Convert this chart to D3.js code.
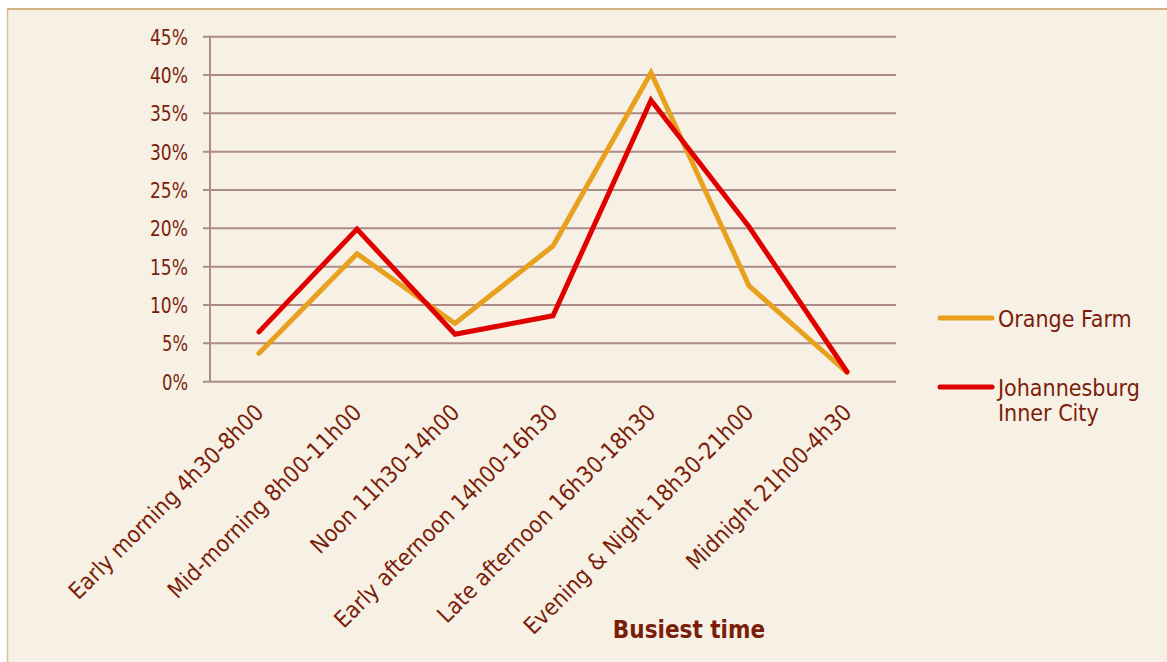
<!DOCTYPE html>
<html>
	<head>
		<meta charset="utf-8">
		<script src="https://cdn.jsdelivr.net/npm/d3@7"></script>
		<style>
			body { margin: 0; background: #ffffff; }
			svg { display: block; }
		</style>
	</head>
	<body>
<script>
// chart values
var categories = ["Early morning 4h30-8h00", "Mid-morning 8h00-11h00", "Noon 11h30-14h00",
	"Early afternoon 14h00-16h30", "Late afternoon 16h30-18h30", "Evening & Night 18h30-21h00",
	"Midnight 21h00-4h30"]
var orangeFarm = [3.7, 16.7, 7.6, 17.7, 40.3, 12.5, 1.2]
var joburgInner = [6.5, 19.9, 6.2, 8.6, 36.7, 20.2, 1.3]
var yTicks = [0, 5, 10, 15, 20, 25, 30, 35, 40, 45]
var seriesNames = ["Orange Farm", "Johannesburg|Inner City"]
var seriesColors = ["#e8a11e", "#e00000"]

var W = 1167, H = 662
var textCol = "#7a1e0a", gridCol = "#ad8b88"
var font = "'DejaVu Sans Condensed', 'DejaVu Sans', sans-serif"

var svg = d3.select('body').append('svg')
	.attr('width', W)
	.attr('height', H)

// panel
svg.append('rect')
	.attr('x', 8).attr('y', 9)
	.attr('width', W).attr('height', H)
	.attr('fill', '#f7f0e4')
svg.append('line').attr('x1', 7.5).attr('x2', 7.5).attr('y1', 9).attr('y2', H)
	.attr('stroke', '#dcc394').attr('stroke-width', 1.5)
svg.append('line').attr('x1', 7).attr('x2', W).attr('y1', 9).attr('y2', 9)
	.attr('stroke', '#c39a5c').attr('stroke-width', 1.5)

var pLeft = 210, pRight = 896, pTop = 36.7, pBottom = 381.7

var x = d3.scaleBand().domain(categories).range([pLeft, pRight])
var y = d3.scaleLinear().domain([0, 45]).range([pBottom, pTop])

// grid
svg.append('g').selectAll('line').data(yTicks).enter().append('line')
	.attr('x1', pLeft - 7).attr('x2', pRight)
	.attr('y1', d => y(d)).attr('y2', d => y(d))
	.attr('stroke', gridCol).attr('stroke-width', 2)

svg.append('line')
	.attr('x1', pLeft).attr('x2', pLeft).attr('y1', pTop).attr('y2', pBottom)
	.attr('stroke', gridCol).attr('stroke-width', 2)

// y labels
svg.append('g').selectAll('text').data(yTicks).enter().append('text')
	.attr('x', 188).attr('y', d => y(d) + 8)
	.attr('text-anchor', 'end')
	.attr('font-family', font).attr('font-size', 22)
	.attr('fill', textCol)
	.attr('textLength', d => d < 10 ? 26 : 38)
	.attr('lengthAdjust', 'spacingAndGlyphs')
	.text(d => d + '%')

// x labels rotated
svg.append('g').selectAll('text').data(categories).enter().append('text')
	.attr('transform', d => 'translate(' + (x(d) + x.bandwidth() / 2 + 6) + ',' + 414 + ') rotate(-45)')
	.attr('text-anchor', 'end')
	.attr('font-family', font).attr('font-size', 23)
	.attr('fill', textCol)
	.text(d => d)

// lines
var line = d3.line()
	.x((d, i) => x(categories[i]) + x.bandwidth() / 2)
	.y(d => y(d))

;[orangeFarm, joburgInner].forEach(function(s, i) {
	svg.append('path')
		.attr('d', line(s))
		.attr('fill', 'none')
		.attr('stroke', seriesColors[i])
		.attr('stroke-width', 5)
		.attr('stroke-linejoin', 'miter')
		.attr('stroke-linecap', 'round')
})

// legend
var legY = [318, 387]
seriesNames.forEach(function(n, i) {
	svg.append('line')
		.attr('x1', 940).attr('x2', 992)
		.attr('y1', legY[i]).attr('y2', legY[i])
		.attr('stroke', seriesColors[i]).attr('stroke-width', 5)
		.attr('stroke-linecap', 'round')
	var t = svg.append('text')
		.attr('x', 998).attr('y', legY[i] + 9)
		.attr('font-family', font).attr('font-size', 23)
		.attr('fill', textCol)
	n.split('|').forEach(function(part, k) {
		t.append('tspan').attr('x', 998).attr('dy', k ? 25 : 0).text(part)
	})
})

// axis title
svg.append('text')
	.attr('x', 689).attr('y', 638)
	.attr('text-anchor', 'middle')
	.attr('font-family', font).attr('font-size', 24)
	.attr('font-weight', 'bold')
	.attr('fill', textCol)
	.text('Busiest time')
</script>
	</body>
</html>
